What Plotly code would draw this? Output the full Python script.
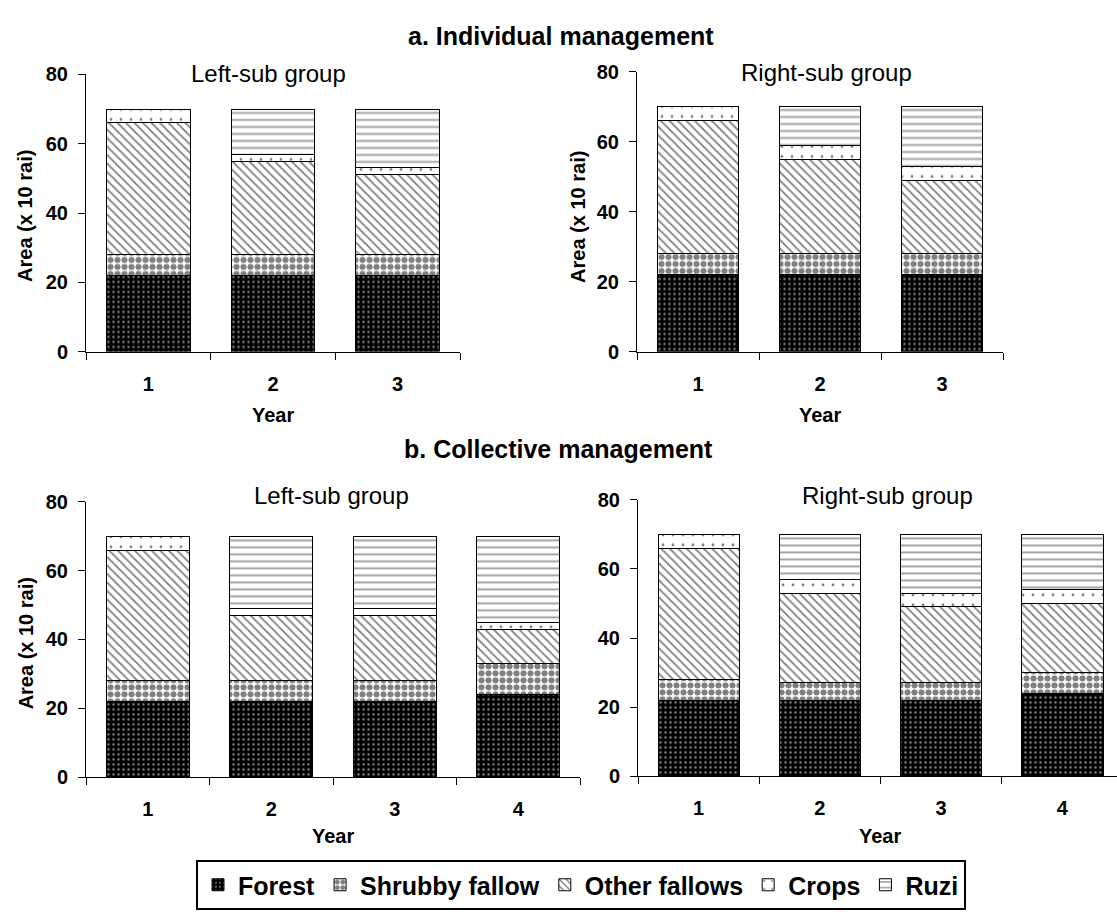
import plotly.graph_objects as go

# ---------------- data ----------------
series = ["Forest", "Shrubby fallow", "Other fallows", "Crops", "Ruzi"]

years_a = ["1", "2", "3"]
years_b = ["1", "2", "3", "4"]

# a. Individual management
a_left = {
    "Forest": [22, 22, 22],
    "Shrubby fallow": [6, 6, 6],
    "Other fallows": [38, 27, 23],
    "Crops": [4, 2, 2],
    "Ruzi": [0, 13, 17],
}
a_right = {
    "Forest": [22, 22, 22],
    "Shrubby fallow": [6, 6, 6],
    "Other fallows": [38, 27, 21],
    "Crops": [4, 4, 4],
    "Ruzi": [0, 11, 17],
}
# b. Collective management
b_left = {
    "Forest": [22, 22, 22, 24],
    "Shrubby fallow": [6, 6, 6, 9],
    "Other fallows": [38, 19, 19, 10],
    "Crops": [4, 2, 2, 2],
    "Ruzi": [0, 21, 21, 25],
}
b_right = {
    "Forest": [22, 22, 22, 24],
    "Shrubby fallow": [6, 5, 5, 6],
    "Other fallows": [38, 26, 22, 20],
    "Crops": [4, 4, 4, 4],
    "Ruzi": [0, 13, 17, 16],
}

y_ticks = [0, 20, 40, 60, 80]

# ---------------- styles ----------------
patterns = {
    "Forest": dict(shape=".", bgcolor="black", fgcolor="white", size=5, solidity=0.18),
    "Shrubby fallow": dict(shape=".", bgcolor="white", fgcolor="black", size=7, solidity=0.6),
    "Other fallows": dict(shape="\\", bgcolor="white", fgcolor="black", size=6, solidity=0.3),
    "Crops": dict(shape=".", bgcolor="white", fgcolor="black", size=10, solidity=0.06),
    "Ruzi": dict(shape="-", bgcolor="white", fgcolor="#444444", size=7, solidity=0.28),
}

W, H = 1117, 912
FONT = "Liberation Sans, Arial, sans-serif"


def fx(px):
    return px / W


def fy(px):
    return 1 - px / H


panels = [
    # (data, categories, x px span, y px span, x range)
    (a_left, years_a, (86, 460), (65, 349), [-0.5, 2.5]),
    (a_right, years_a, (637, 1003), (62, 349), [-0.5, 2.5]),
    (b_left, years_b, (86, 580), (503, 785), [-0.5, 3.5]),
    (b_right, years_b, (638, 1117), (501, 784), [-0.5, 3.45]),
]

fig = go.Figure()

for i, (data, cats, xr, yr, xrange_) in enumerate(panels):
    suffix = "" if i == 0 else str(i + 1)
    xa, ya = "x" + suffix, "y" + suffix
    for s in series:
        fig.add_trace(go.Bar(
            x=cats, y=data[s], name=s, xaxis=xa, yaxis=ya,
            marker=dict(color="white", line=dict(color="black", width=1),
                        pattern=patterns[s]),
            showlegend=(i == 0), legendgroup=s,
        ))
    fig.layout["xaxis" + suffix] = dict(
        domain=[fx(xr[0]), fx(xr[1])], anchor=ya, type="category",
        range=xrange_,
        showline=True, linecolor="black", linewidth=1,
        ticks="outside", tickson="boundaries", ticklen=7, tickcolor="black",
        ticklabelstandoff=14,
        tickfont=dict(family=FONT, size=20, color="black", weight="bold"),
        showgrid=False, zeroline=False, fixedrange=True,
    )
    fig.layout["yaxis" + suffix] = dict(
        domain=[fy(yr[1]), fy(yr[0])], anchor=xa, range=[0, 80],
        tickvals=y_ticks, showline=True, linecolor="black", linewidth=1,
        ticks="outside", ticklen=7, tickcolor="black",
        ticklabelstandoff=6,
        tickfont=dict(family=FONT, size=20, color="black", weight="bold"),
        showgrid=False, zeroline=False, fixedrange=True,
    )

annotations = []


def ann(text, x, y, size, bold=False, angle=0):
    annotations.append(dict(
        text=("<b>%s</b>" % text) if bold else text,
        x=fx(x), y=fy(y), xref="paper", yref="paper",
        showarrow=False, xanchor="center", yanchor="middle", textangle=angle,
        font=dict(family=FONT, size=size, color="black"),
    ))


ann("a. Individual management", 561, 26, 25, bold=True)
ann("b. Collective management", 558, 449, 25, bold=True)
ann("Left-sub group", 268, 64, 24)
ann("Right-sub group", 826, 63, 24)
ann("Left-sub group", 331, 496, 24)
ann("Right-sub group", 887, 496, 24)
ann("Year", 273, 414, 20, bold=True)
ann("Year", 820, 414, 20, bold=True)
ann("Year", 333, 845, 20, bold=True)
ann("Year", 880, 845, 20, bold=True)
ann("Area (x 10 rai)", 25, 210, 20, bold=True, angle=-90)
ann("Area (x 10 rai)", 578, 211, 20, bold=True, angle=-90)
ann("Area (x 10 rai)", 26, 648, 20, bold=True, angle=-90)

fig.update_layout(
    width=W, height=H,
    margin=dict(l=0, r=0, t=0, b=0),
    plot_bgcolor="white", paper_bgcolor="white",
    barmode="stack", bargap=0.33,
    annotations=annotations,
    legend=dict(
        orientation="h", x=fx(581), y=fy(870), xanchor="center", yanchor="top",
        bordercolor="black", borderwidth=2,
        font=dict(family=FONT, size=25, color="black", weight="bold"),
        itemwidth=30, tracegroupgap=0, traceorder="normal",
    ),
    font=dict(family=FONT, color="black"),
)

fig.write_html(
    "out.html",
    config={"displayModeBar": False},
    post_script="document.body.style.margin='0px';document.body.style.overflow='hidden';",
)
